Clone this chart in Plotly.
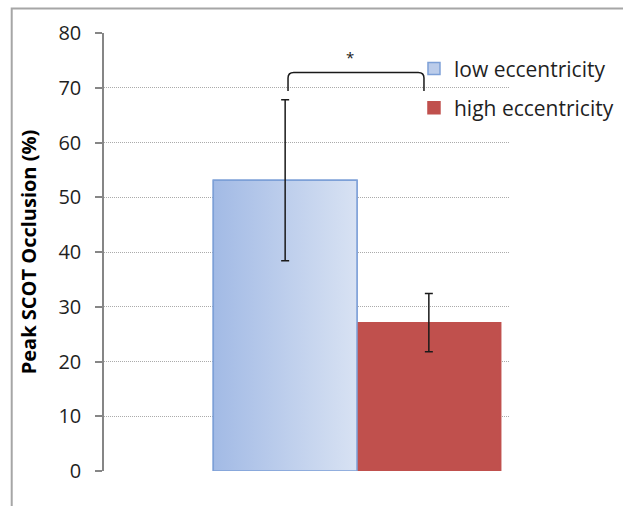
import plotly.graph_objects as go

# ---- data ----
categories = ["low eccentricity", "high eccentricity"]
occlusion = [53.1, 27.1]
error = [14.7, 5.3]
y_ticks = [0, 10, 20, 30, 40, 50, 60, 70, 80]
sig_label = "*"
bracket_low = 69.4
bracket_high = 72.8
star_y = 75.6

bar_colors = ["#BBCCEA", "#C0504D"]
bar_lines = ["#7DA0D7", "#C0504D"]

FONT = "Open Sans"

fig = go.Figure()
positions = list(range(len(categories)))

for i, (cat, val) in enumerate(zip(categories, occlusion)):
    fig.add_trace(go.Bar(
        x=[positions[i]], y=[val], name=cat, width=1,
        marker=dict(color=bar_colors[i], line=dict(color=bar_lines[i], width=1.5)),
        legendgroup=cat, showlegend=True, hoverinfo="skip",
    ))

# gradient fill over the low-eccentricity bar
p0 = positions[0]
fig.add_trace(go.Scatter(
    x=[p0 - 0.5, p0 + 0.5, p0 + 0.5, p0 - 0.5, p0 - 0.5],
    y=[0, 0, occlusion[0], occlusion[0], 0],
    mode="lines", fill="toself",
    fillgradient=dict(type="horizontal",
                      colorscale=[[0, "#A2BAE5"], [1, "#D8E2F3"]]),
    line=dict(color="#7DA0D7", width=1.5),
    showlegend=False, hoverinfo="skip",
))

# error bars
fig.add_trace(go.Scatter(
    x=positions, y=occlusion, mode="markers",
    marker=dict(size=1, color="rgba(0,0,0,0)"),
    error_y=dict(type="data", array=error, visible=True,
                 color="#1A1A1A", thickness=1.5, width=4),
    showlegend=False, hoverinfo="skip",
))

# significance bracket
xl, xr = positions[0] + 0.02, positions[1] - 0.034
r = 0.04
fig.add_shape(
    type="path", xref="x", yref="y",
    path=(f"M {xl},{bracket_low} L {xl},{bracket_high - 1} "
          f"Q {xl},{bracket_high} {xl + r},{bracket_high} "
          f"L {xr - r},{bracket_high} Q {xr},{bracket_high} {xr},{bracket_high - 1} "
          f"L {xr},{bracket_low}"),
    line=dict(color="#1A1A1A", width=1.5),
)
fig.add_annotation(x=0.45, y=star_y, text=sig_label, showarrow=False,
                   font=dict(family=FONT, size=15, color="#1A1A1A"),
                   xref="x", yref="y")

# outer frame
fig.add_shape(type="path", xref="paper", yref="paper",
              path="M -0.2273,-0.2 L -0.2273,1.056 L 1.5,1.056",
              line=dict(color="#A6A6A6", width=2))

fig.update_layout(
    width=623, height=506,
    margin=dict(l=104, r=113, t=33, b=35, autoexpand=False),
    paper_bgcolor="white", plot_bgcolor="white",
    barmode="overlay",
    font=dict(family=FONT, color="#222222"),
    showlegend=True,
    legend=dict(x=0.7635, y=0.965, xanchor="left", yanchor="top",
                xref="paper", yref="paper",
                font=dict(family=FONT, size=21, color="#1F1F1F"),
                bgcolor="rgba(0,0,0,0)", tracegroupgap=9,
                itemclick=False),
    xaxis=dict(range=[-1.2606, 1.5647], showgrid=False, zeroline=False,
               showticklabels=False, showline=False, ticks="", automargin=False),
    yaxis=dict(range=[0, 80], tickvals=y_ticks, automargin=False,
               showgrid=True, gridcolor="#ABABAB", griddash="1px,1px", gridwidth=1,
               zeroline=False, showline=True, linecolor="#868686", linewidth=1.5,
               ticks="outside", ticklen=7, tickcolor="#868686", tickwidth=1.5,
               ticklabelstandoff=10,
               tickfont=dict(family=FONT, size=20, color="#1F1F1F"),
               title=dict(text="<b>Peak SCOT Occlusion (%)</b>", standoff=16,
                          font=dict(family=FONT, size=20, color="#000000"))),
)

fig.write_html("out.html", config={"displayModeBar": False},
               post_script="document.body.style.margin='0';")
